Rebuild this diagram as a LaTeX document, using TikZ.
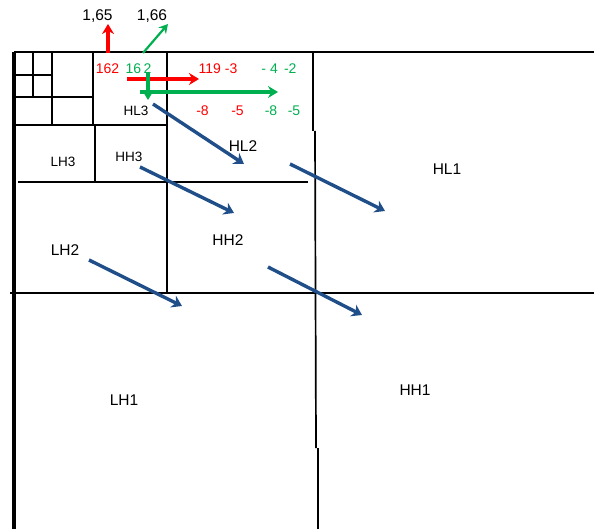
\documentclass[tikz,border=0pt]{standalone}
\usepackage{fontspec}
\setmainfont{Liberation Sans}
\usetikzlibrary{arrows.meta}
\definecolor{myred}{HTML}{FF0000}
\definecolor{mygreen}{HTML}{00B050}
\definecolor{myblue}{HTML}{1F4E89}
\begin{document}
\begin{tikzpicture}[x=1pt,y=-1pt,
  grid/.style={draw=black,line width=1.7pt},
  lbl/.style={inner sep=0pt,font=\fontsize{15.5}{15.5}\selectfont},
  slbl/.style={inner sep=0pt,font=\fontsize{13.5}{13.5}\selectfont},
  rnum/.style={inner sep=0pt,text=myred,font=\fontsize{14}{14}\selectfont},
  gnum/.style={inner sep=0pt,text=mygreen,font=\fontsize{14}{14}\selectfont},
  barrow/.style={draw=myblue,line width=3.4pt,-{Stealth[length=10pt,width=13pt]}},
  rarrow/.style={draw=myred,line width=3.2pt,-{Stealth[length=10pt,width=12pt]}},
  garrow/.style={draw=mygreen,line width=3.2pt,-{Stealth[length=10pt,width=12pt]}},
  garrowthin/.style={draw=mygreen,line width=2.2pt,-{Stealth[length=9pt,width=10pt]}}]
\useasboundingbox (0,0) rectangle (594,529);
% grid lines
\draw[line width=3.2pt] (14,52) -- (14,529);
\draw[line width=2.4pt] (14,52) -- (594,52);
\draw[grid] (313,52) -- (313,131) (315,131) -- (316,448) (318,448) -- (318,529);
\draw[grid] (10,293) -- (594,293);
\draw[grid] (167,52) -- (167,293);
\draw[grid] (18,182) -- (308,182);
\draw[grid] (14,125) -- (167,125);
\draw[grid] (93,52) -- (93,125) (95,125) -- (95,182);
\draw[grid] (52,52) -- (52,125);
\draw[grid] (14,97) -- (93,97);
\draw[grid] (33,52) -- (33,97);
\draw[grid] (14,75) -- (52,75);
% labels
\node[lbl] (v165) at (97.5,16) {1,65};
\node[lbl] (v166) at (152,16) {1,66};
\node[rnum] (r162) at (107.5,69) {162};
\node[gnum] (g162) at (138.5,69) {16\,2};
\node[rnum] (r119) at (218,69) {119 -3};
\node[gnum] (g42) at (279,69) {- 4\, -2};
\node[rnum] (rm8) at (202.5,111) {-8};
\node[rnum] (rm5) at (237.5,111) {-5};
\node[gnum] (gm8) at (271,111) {-8};
\node[gnum] (gm5) at (294,111) {-5};
\node[slbl] (HL3) at (136,111) {HL3};
\node[slbl] (LH3) at (63,162) {LH3};
\node[slbl] (HH3) at (129,157) {HH3};
\node[lbl] (HL2) at (243,146) {HL2};
\node[lbl] (HH2) at (228,240) {HH2};
\node[lbl] (LH2) at (65,250) {LH2};
\node[lbl] (HL1) at (447,169.5) {HL1};
\node[lbl] (LH1) at (124,400) {LH1};
\node[lbl] (HH1) at (415,390) {HH1};
% red / green arrows
\coordinate (ru0) at (108,53); \coordinate (ru1) at (108,24);
\draw[rarrow] (ru0) -- (ru1);
\coordinate (gd0) at (143,53); \coordinate (gd1) at (168,24);
\draw[garrowthin] (gd0) -- (gd1);
\coordinate (rh0) at (127,79); \coordinate (rh1) at (199,79);
\draw[rarrow] (rh0) -- (rh1);
\coordinate (gh0) at (140,92); \coordinate (gh1) at (278,92);
\draw[garrow] (gh0) -- (gh1);
\coordinate (gv0) at (148,72); \coordinate (gv1) at (148,100);
\draw[garrow] (gv0) -- (gv1);
% blue arrows
\coordinate (b1s) at (153,104); \coordinate (b1e) at (244,164);
\coordinate (b2s) at (140,167); \coordinate (b2e) at (234,213);
\coordinate (b3s) at (89,260);  \coordinate (b3e) at (182,306);
\coordinate (b4s) at (290,164); \coordinate (b4e) at (385,211);
\coordinate (b5s) at (268,267); \coordinate (b5e) at (362,315);
\draw[barrow] (b1s) -- (b1e);
\draw[barrow] (b2s) -- (b2e);
\draw[barrow] (b3s) -- (b3e);
\draw[barrow] (b4s) -- (b4e);
\draw[barrow] (b5s) -- (b5e);
\end{tikzpicture}
\end{document}
